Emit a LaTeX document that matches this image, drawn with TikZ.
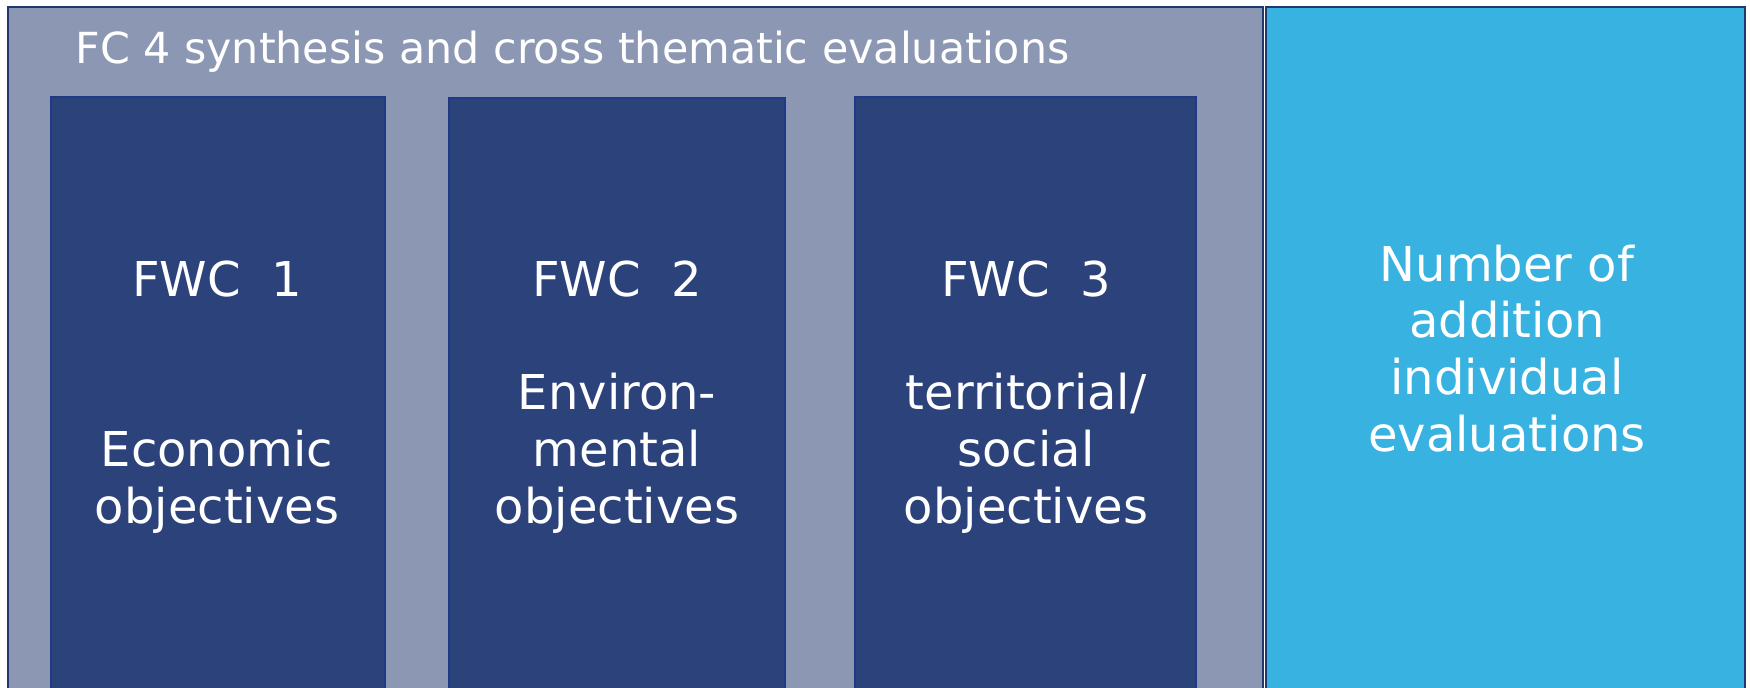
\documentclass[tikz,border=0pt]{standalone}
\usepackage{fontspec}
\setmainfont{DejaVu Sans}
\begin{document}
\begin{tikzpicture}[x=0.5pt,y=-0.5pt,
  greyfill/.style={fill={rgb,255:red,140;green,152;blue,179}},
  darkbox/.style={draw={rgb,255:red,30;green,58;blue,135},line width=1pt,fill={rgb,255:red,44;green,66;blue,122}},
  bluebox/.style={draw={rgb,255:red,32;green,56;blue,110},line width=1pt,fill={rgb,255:red,56;green,178;blue,224}},
  outerbox/.style={draw={rgb,255:red,32;green,56;blue,110},line width=1pt},
  boxtext/.style={text=white,align=center,anchor=base,inner sep=0pt,font=\fontsize{24pt}{28.3pt}\selectfont},
  titletext/.style={text=white,anchor=base west,inner sep=0pt,font=\fontsize{21.4pt}{26pt}\selectfont}]
\useasboundingbox (0,0) rectangle (1750,687);
\fill[white] (0,0) rectangle (1750,687);
% outer grey frame
\draw[outerbox,greyfill] (8,6.5) rectangle (1263,700);
% light blue box
\draw[bluebox] (1266,6.5) rectangle (1745,700);
% three dark boxes
\draw[darkbox] (51,96.5) rectangle (385,700);
\draw[darkbox] (448.5,98) rectangle (785,700);
\draw[darkbox] (855,96.5) rectangle (1196,700);
% texts (anchored at the baseline of the last line)
\node[titletext] (title) at (75,63) {FC 4 synthesis and cross thematic evaluations};
\node[boxtext] (fwc1) at (217,523) {FWC~ 1\\ \\ \\Economic\\objectives};
\node[boxtext] (fwc2) at (617,523) {FWC~ 2\\ \\Environ-\\mental\\objectives};
\node[boxtext] (fwc3) at (1026,523) {FWC~ 3\\ \\territorial/\\social\\objectives};
\node[boxtext] (num) at (1507,451) {Number of\\addition\\individual\\evaluations};
\end{tikzpicture}
\end{document}
